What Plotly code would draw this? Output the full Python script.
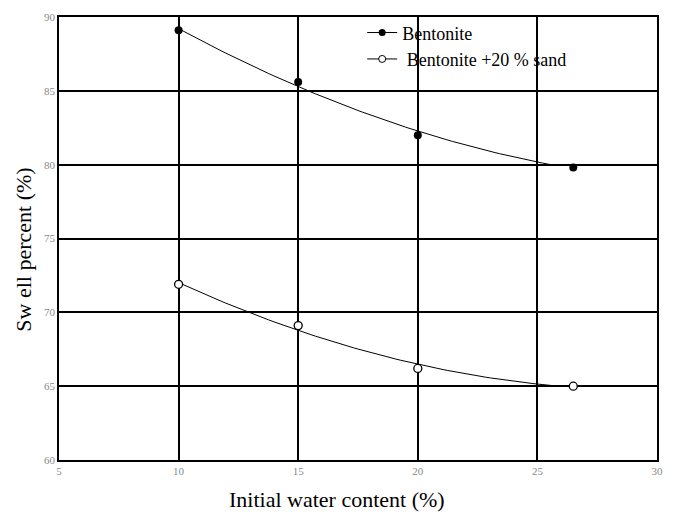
import numpy as np
import plotly.graph_objects as go

water = [10, 15, 20, 26.5]
bentonite = [89.1, 85.6, 82.0, 79.8]
bent_sand = [71.9, 69.1, 66.2, 65.0]
x_ticks = [5, 10, 15, 20, 25, 30]
y_ticks = [60, 65, 70, 75, 80, 85, 90]
fit_end = 25.6

SERIF = "Liberation Serif, Times New Roman, serif"

fig = go.Figure()

xs = np.linspace(water[0], fit_end, 80)
for ys in (bentonite, bent_sand):
    coef = np.polyfit(water, ys, 2)
    fig.add_trace(go.Scatter(x=xs, y=np.polyval(coef, xs), mode="lines",
                             line=dict(color="black", width=1), showlegend=False,
                             hoverinfo="skip"))

fig.add_trace(go.Scatter(x=water, y=bentonite, mode="markers", showlegend=False,
                         marker=dict(symbol="circle", size=8, color="black")))
fig.add_trace(go.Scatter(x=water, y=bent_sand, mode="markers", showlegend=False,
                         marker=dict(symbol="circle", size=8, color="white",
                                     line=dict(color="black", width=1.3))))

fig.add_trace(go.Scatter(x=[None], y=[None], mode="lines+markers", name="Bentonite",
                         line=dict(color="black", width=1),
                         marker=dict(symbol="circle", size=7, color="black")))
fig.add_trace(go.Scatter(x=[None], y=[None], mode="lines+markers",
                         name=" Bentonite +20 % sand",
                         line=dict(color="black", width=1),
                         marker=dict(symbol="circle", size=7, color="white",
                                     line=dict(color="black", width=1))))

axis_common = dict(showgrid=True, gridcolor="black", gridwidth=1.5,
                   showline=True, linecolor="black", linewidth=1.5, mirror=True,
                   zeroline=False, ticks="", automargin=False,
                   tickfont=dict(family=SERIF, size=11, color="#8a8a8a"))

# page body has an 8px margin, so the figure is sized/placed to compensate
fig.update_layout(
    width=665, height=506,
    margin=dict(l=51, r=16, t=6, b=54),
    paper_bgcolor="white", plot_bgcolor="white",
    xaxis=dict(range=[5, 30], tickvals=x_ticks, ticklabelstandoff=0, **axis_common),
    yaxis=dict(range=[60, 90], tickvals=y_ticks, **axis_common),
    legend=dict(x=0.507, y=1.006, xanchor="left", yanchor="top",
                bgcolor="rgba(0,0,0,0)", borderwidth=0,
                font=dict(family=SERIF, size=18, color="black"),
                tracegroupgap=0, itemwidth=30),
    showlegend=True,
    annotations=[
        dict(text="Initial water content (%)", xref="paper", yref="paper",
             x=0.465, y=-0.09, xanchor="center", yanchor="middle", showarrow=False,
             font=dict(family=SERIF, size=22, color="black")),
        dict(text="Sw ell percent (%)", xref="paper", yref="paper",
             x=-0.060, y=0.475, xanchor="center", yanchor="middle", showarrow=False,
             textangle=-90, font=dict(family=SERIF, size=22, color="black")),
    ],
)

fig.write_html("out.html")
